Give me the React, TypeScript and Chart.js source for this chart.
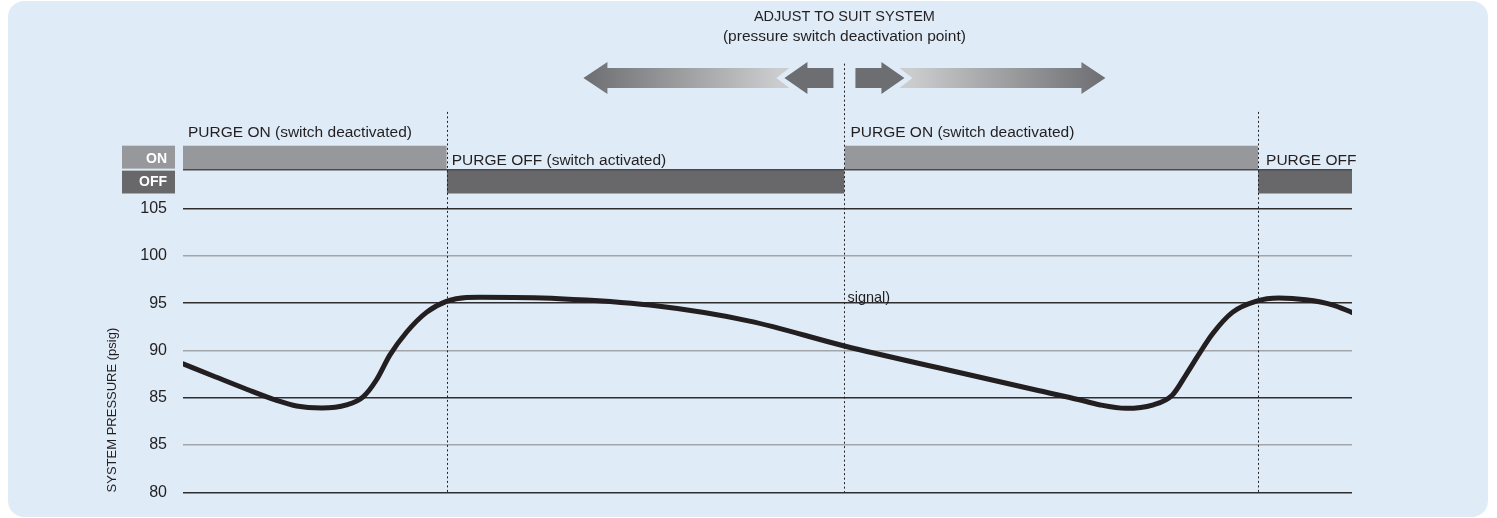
import React, { useEffect, useRef } from "react";
import { Chart, registerables } from "chart.js";

Chart.register(...registerables);

const FONT = '"Liberation Sans", Arial, sans-serif';
const INK = "#231f20";

// Time axis (arbitrary units) and system pressure (psig)
const curveTimes = [
  0, 3.03, 6.37, 9.37, 11.37, 13.87, 16.37, 18.03, 19.37, 20.7, 22.37, 24.37, 26.37,
  28.37, 29.7, 37.7, 46.7, 56.7, 66.2, 76.7, 85.7, 89.7, 91.7, 94.37, 97.03, 99.03,
  100.37, 101.7, 103.03, 105.03, 107.37, 109.7, 112.37, 115.03, 117,
];
const curvePressure = [
  88.58, 87.3, 85.9, 84.72, 84.12, 83.92, 84.25, 85.1, 86.9, 89.5, 91.92, 94.02, 95.18,
  95.6, 95.62, 95.47, 94.79, 93.1, 90.47, 87.9, 85.74, 84.79, 84.26, 83.88, 84.22, 85.3,
  87.4, 89.63, 91.74, 94.02, 95.18, 95.53, 95.35, 94.82, 94.02,
];

const yTickValues = [75, 80, 85, 90, 95, 100, 105];
const yTickLabels = ["80", "85", "85", "90", "95", "100", "105"];

// Purge switch timeline
const switchTimes = [0, 26.4, 66.2, 107.6, 117];
const purgeStates = ["ON", "OFF", "ON", "OFF"];
const stateLabels = [
  "PURGE ON (switch deactivated)",
  "PURGE OFF (switch activated)",
  "PURGE ON (switch deactivated)",
  "PURGE OFF",
];
const stateLabelTimes = [0.5, 26.9, 66.8, 108.4];
const dividerTimes = [26.4, 66.2, 107.6];
const dividerTops = [115.2, 120.3, 115.2];

// Vertical levels of the ON / OFF strip (in axis units)
const ON_TOP = 111.63;
const SEP = 109.1;
const OFF_BOTTOM = 106.58;
const ON_LABEL_BASE = 112.58;
const OFF_LABEL_BASE = 109.63;

const X_MIN = 0;
const X_MAX = 117;
const Y_MIN = 75;
const Y_MAX = 121;

const decorPlugin = {
  id: "decor",
  afterDatasetsDraw(chart: any) {
    const ctx: CanvasRenderingContext2D = chart.ctx;
    const xs = chart.scales.x;
    const ys = chart.scales.y;
    const area = chart.chartArea;
    ctx.save();

    // dotted dividers
    ctx.strokeStyle = INK;
    ctx.lineWidth = 1;
    ctx.setLineDash([2, 2.5]);
    dividerTimes.forEach((t, i) => {
      const px = Math.round(xs.getPixelForValue(t)) + 0.5;
      ctx.beginPath();
      ctx.moveTo(px, ys.getPixelForValue(dividerTops[i]));
      ctx.lineTo(px, ys.getPixelForValue(Y_MIN));
      ctx.stroke();
    });
    ctx.setLineDash([]);

    // state labels
    ctx.fillStyle = INK;
    ctx.font = `15.5px ${FONT}`;
    ctx.textAlign = "left";
    ctx.textBaseline = "alphabetic";
    stateLabels.forEach((s, i) => {
      const base = purgeStates[i] === "ON" ? ON_LABEL_BASE : OFF_LABEL_BASE;
      ctx.fillText(s, xs.getPixelForValue(stateLabelTimes[i]), ys.getPixelForValue(base));
    });

    // "signal)" fragment
    ctx.font = `14.5px ${FONT}`;
    ctx.fillText("signal)", xs.getPixelForValue(66.5), ys.getPixelForValue(95.15));

    // ON / OFF keys
    const kx0 = area.left - 61;
    const kx1 = area.left - 8;
    const onT = ys.getPixelForValue(ON_TOP);
    const sep = ys.getPixelForValue(SEP);
    const offB = ys.getPixelForValue(OFF_BOTTOM);
    ctx.fillStyle = "#97989b";
    ctx.fillRect(kx0, onT, kx1 - kx0, sep - onT - 1);
    ctx.fillStyle = "#68686a";
    ctx.fillRect(kx0, sep + 1, kx1 - kx0, offB - sep - 1);
    ctx.fillStyle = "#ffffff";
    ctx.font = `bold 14px ${FONT}`;
    ctx.textAlign = "right";
    ctx.textBaseline = "middle";
    ctx.fillText("ON", kx1 - 8, (onT + sep) / 2 + 1);
    ctx.fillText("OFF", kx1 - 8, (sep + offB) / 2 + 1);

    // y axis title
    ctx.save();
    ctx.translate(112, ys.getPixelForValue(83.7));
    ctx.rotate(-Math.PI / 2);
    ctx.fillStyle = INK;
    ctx.font = `13px ${FONT}`;
    ctx.textAlign = "center";
    ctx.textBaseline = "middle";
    ctx.fillText("SYSTEM PRESSURE (psig)", 0, 0);
    ctx.restore();

    // header text
    const c = xs.getPixelForValue(dividerTimes[1]);
    ctx.fillStyle = INK;
    ctx.textAlign = "center";
    ctx.textBaseline = "alphabetic";
    ctx.font = `14.5px ${FONT}`;
    ctx.fillText("ADJUST TO SUIT SYSTEM", c, 21);
    ctx.font = `15.5px ${FONT}`;
    ctx.fillText("(pressure switch deactivation point)", c, 41);

    // arrows
    const cy = 78;
    const hh = 16;
    const sh = 10;
    const dark = "#6d6e71";
    const light = "#cbccce";
    const poly = (pts: number[][], fill: any) => {
      ctx.beginPath();
      pts.forEach((p, i) => (i ? ctx.lineTo(p[0], p[1]) : ctx.moveTo(p[0], p[1])));
      ctx.closePath();
      ctx.fillStyle = fill;
      ctx.fill();
    };
    [-1, 1].forEach((d) => {
      const X = (o: number) => c + d * o;
      // small arrow
      poly(
        [
          [X(11), cy - sh], [X(37), cy - sh], [X(37), cy - hh], [X(60), cy],
          [X(37), cy + hh], [X(37), cy + sh], [X(11), cy + sh],
        ],
        dark
      );
      // big gradient arrow
      const g = ctx.createLinearGradient(X(67), 0, X(261), 0);
      g.addColorStop(0, light);
      g.addColorStop(1, dark);
      poly(
        [
          [X(55), cy - sh], [X(237), cy - sh], [X(237), cy - hh], [X(261), cy],
          [X(237), cy + hh], [X(237), cy + sh], [X(55), cy + sh], [X(68), cy],
        ],
        g
      );
    });

    ctx.restore();
  },
};

export default function App() {
  const ref = useRef<HTMLCanvasElement | null>(null);

  useEffect(() => {
    document.body.style.margin = "0";
    if (!ref.current) return;

    const bandSets = purgeStates.map((s, i) => ({
      type: "line" as const,
      data: [
        { x: switchTimes[i], y: s === "ON" ? ON_TOP : SEP },
        { x: switchTimes[i + 1], y: s === "ON" ? ON_TOP : SEP },
      ],
      fill: { value: s === "ON" ? SEP : OFF_BOTTOM },
      backgroundColor: s === "ON" ? "#97989b" : "#68686a",
      borderWidth: 0,
      borderColor: "rgba(0,0,0,0)",
      pointRadius: 0,
      order: 5,
    }));

    const chart = new Chart(ref.current, {
      type: "line",
      data: {
        datasets: [
          {
            data: curveTimes.map((t, i) => ({ x: t, y: curvePressure[i] })),
            borderColor: INK,
            borderWidth: 5,
            borderCapStyle: "round",
            borderJoinStyle: "round",
            pointRadius: 0,
            cubicInterpolationMode: "monotone",
            fill: false,
            order: 0,
          },
          {
            data: [
              { x: X_MIN, y: SEP },
              { x: X_MAX, y: SEP },
            ],
            borderColor: "#4a4a4c",
            borderWidth: 1.5,
            pointRadius: 0,
            fill: false,
            order: 1,
          },
          ...bandSets,
        ] as any,
      },
      options: {
        responsive: false,
        animation: false,
        events: [],
        layout: { padding: { top: 57, right: 145, bottom: 24, left: 0 } },
        plugins: { legend: { display: false }, tooltip: { enabled: false } },
        scales: {
          x: { type: "linear", min: X_MIN, max: X_MAX, display: false },
          y: {
            type: "linear",
            min: Y_MIN,
            max: Y_MAX,
            afterBuildTicks: (s: any) => {
              s.ticks = yTickValues.map((v) => ({ value: v }));
            },
            afterFit: (s: any) => {
              s.width = 183;
            },
            border: { display: false },
            grid: {
              color: (c: any) => (c.index % 2 === 0 ? "#2e2e30" : "#a3a5a8"),
              lineWidth: 1.5,
              drawTicks: false,
            },
            ticks: {
              padding: 16,
              color: INK,
              font: { family: FONT, size: 16 },
              autoSkip: false,
              callback: (v: any) => yTickLabels[yTickValues.indexOf(Number(v))] ?? "",
            },
          },
        },
      },
      plugins: [decorPlugin],
    });

    return () => chart.destroy();
  }, []);

  return (
    <div style={{ position: "relative", width: 1497, height: 518, background: "#ffffff" }}>
      <div
        style={{
          position: "absolute",
          left: 8,
          top: 1,
          width: 1480,
          height: 516,
          borderRadius: 16,
          background: "#dfebf7",
        }}
      />
      <canvas
        ref={ref}
        width={1497}
        height={518}
        style={{ position: "absolute", left: 0, top: 0, display: "block" }}
      />
    </div>
  );
}
